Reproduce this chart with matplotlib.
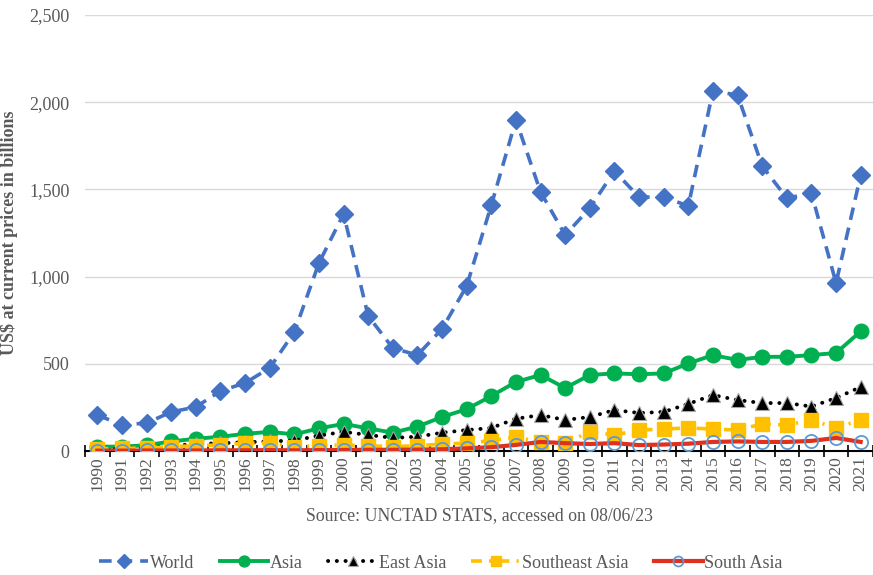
import matplotlib
matplotlib.use("Agg")
import matplotlib.pyplot as plt
from matplotlib.ticker import FuncFormatter, FixedLocator, NullFormatter

plt.rcParams['font.family'] = ['Liberation Serif', 'DejaVu Serif']

years = list(range(1990, 2022))
world = [206, 150, 160, 224, 252, 344, 390, 476, 682, 1078, 1359, 774, 590, 550, 700, 946,
         1410, 1898, 1485, 1238, 1393, 1605, 1456, 1456, 1405, 2064, 2041, 1634, 1450, 1478, 963, 1582]
asia = [25, 25, 33, 55, 70, 82, 98, 110, 95, 130, 155, 130, 105, 140, 195, 240,
        315, 396, 436, 361, 436, 445, 440, 445, 502, 550, 522, 540, 540, 550, 562, 686]
east_asia = [10, 12, 20, 30, 40, 45, 50, 55, 60, 88, 110, 92, 75, 82, 105, 120,
             132, 185, 206, 178, 195, 235, 218, 224, 270, 321, 292, 275, 275, 255, 304, 367]
southeast_asia = [12, 15, 18, 25, 30, 35, 45, 45, 25, 30, 35, 30, 25, 30, 40, 45,
                  60, 80, 52, 46, 110, 92, 120, 126, 132, 126, 120, 155, 149, 178, 132, 178]
south_asia = [2, 2, 3, 3, 3, 4, 4, 5, 4, 5, 6, 7, 7, 8, 10, 15,
              22, 35, 52, 45, 40, 45, 34, 37, 42, 52, 55, 52, 52, 58, 75, 52]
yticks = [0, 500, 1000, 1500, 2000, 2500]

gray = '#595959'
fig = plt.figure(figsize=(8.73, 5.75), dpi=100)
ax = fig.add_axes([85/873, (575-451)/575, (873-85)/873, (451-15)/575])

x = list(range(len(years)))
ax.plot(x, world, color='#4472C4', lw=2.6, ls=(0, (3.5, 2.2)), marker='D', ms=9,
        mfc='#4472C4', mec='#4472C4', label='World', zorder=3)
ax.plot(x, asia, color='#00B050', lw=2.8, ls='-', marker='o', ms=10.5,
        mfc='#00B050', mec='#00B050', label='Asia', zorder=4)
ax.plot(x, east_asia, color='black', lw=2.8, ls=(0, (0.05, 2.2)), dash_capstyle='round',
        marker='^', ms=10.5, mfc='black', mec='#a6a6a6', mew=0.8, label='East Asia', zorder=5)
ax.plot(x, southeast_asia, color='#FFC000', lw=2.6, ls=(0, (3, 2, 0.6, 2)), marker='s', ms=9.5,
        mfc='#FFC000', mec='#FFC000', label='Southeast Asia', zorder=6)
ax.plot(x, south_asia, color='#E0301E', lw=3, ls='-', marker='o', ms=9.5,
        mfc='none', mec='#5B9BD5', mew=1.3, label='South Asia', zorder=7)

ax.set_xlim(-0.5, len(years) - 0.5)
ax.set_ylim(0, 2500)
ax.set_yticks(yticks)
ax.yaxis.set_major_formatter(FuncFormatter(lambda v, p: f'{int(v):,}'))
ax.tick_params(axis='y', length=0, labelsize=13, labelcolor=gray, pad=11)
ax.grid(axis='y', color='#d9d9d9', lw=1)
ax.set_axisbelow(True)

ax.set_xticks(x)
ax.set_xticklabels([str(y) for y in years], rotation=90, fontsize=12.5, color=gray)
ax.tick_params(axis='x', which='major', length=0, pad=4)
ax.xaxis.set_minor_locator(FixedLocator([i - 0.5 for i in range(len(years) + 1)]))
ax.xaxis.set_minor_formatter(NullFormatter())
ax.tick_params(axis='x', which='minor', length=8, direction='inout', width=1.2, color='black')

for s in ['top', 'right', 'left']:
    ax.spines[s].set_visible(False)
ax.spines['bottom'].set_color('black')
ax.spines['bottom'].set_linewidth(1.5)
ax.spines['bottom'].set_zorder(2)

ax.set_ylabel('US$ at current prices in billions', fontsize=13, fontweight='bold', color=gray)
ax.yaxis.set_label_coords((18 - 85) / 788, 0.5)

fig.text((85 + 873) / 2 / 873, 1 - 516/575, 'Source: UNCTAD STATS, accessed on 08/06/23',
         ha='center', va='center', fontsize=12.8, color=gray)

leg = fig.legend(loc='center', bbox_to_anchor=(441/873, 1 - 563/575), ncol=5, frameon=False,
                 fontsize=13, handlelength=2.7, columnspacing=1.4, handletextpad=0.1,
                 labelcolor=gray, markerscale=0.75)

fig.savefig('out.png', dpi=100)
